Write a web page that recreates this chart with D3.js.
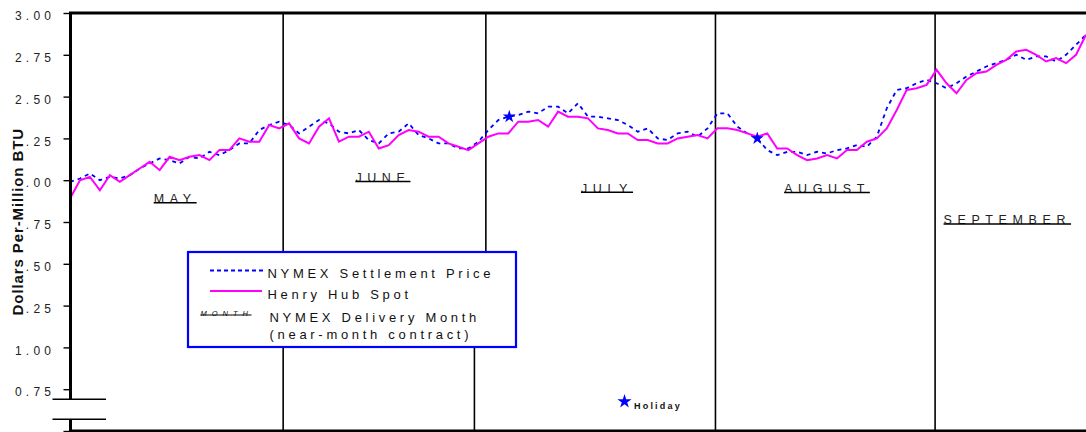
<!DOCTYPE html>
<html>
<head>
<meta charset="utf-8">
<script src="https://cdn.jsdelivr.net/npm/d3@7"></script>
<style>
  html, body { margin: 0; padding: 0; background: #fff; }
  svg { display: block; font-family: "Liberation Sans", Arial, Helvetica, sans-serif; }
</style>
</head>
<body>
<svg id="chart" width="1086" height="432"></svg>
<script>
// Daily prices, May through September (trading days), $ per million BTU
const henryHub = [
  1.89, 2.00, 2.02, 1.94, 2.03, 1.99, 2.03, 2.07, 2.11, 2.06,
  2.14, 2.12, 2.14, 2.15, 2.12, 2.18, 2.18, 2.25, 2.23, 2.23,
  2.33, 2.31, 2.34, 2.25, 2.22, 2.32, 2.37, 2.23, 2.26, 2.26,
  2.29, 2.19, 2.21, 2.27, 2.30, 2.29, 2.26, 2.26, 2.22, 2.20,
  2.18, 2.22, 2.26, 2.28, 2.28, 2.35, 2.35, 2.36, 2.32, 2.41,
  2.38, 2.38, 2.37, 2.31, 2.30, 2.28, 2.28, 2.24, 2.24, 2.22,
  2.22, 2.25, 2.26, 2.27, 2.25, 2.31, 2.31, 2.30, 2.28, 2.26,
  2.28, 2.19, 2.19, 2.15, 2.12, 2.13, 2.15, 2.13, 2.18, 2.18,
  2.23, 2.25, 2.31, 2.42, 2.54, 2.55, 2.57, 2.66, 2.58, 2.52,
  2.60, 2.64, 2.65, 2.69, 2.72, 2.77, 2.78, 2.75, 2.71, 2.73,
  2.70, 2.75, 2.87
];

const nymexSettle = [
  1.99, 2.01, 2.04, 2.00, 2.02, 2.01, 2.03, 2.07, 2.10, 2.13,
  2.12, 2.10, 2.14, 2.13, 2.17, 2.15, 2.18, 2.22, 2.22, 2.30,
  2.33, 2.35, 2.33, 2.28, 2.32, 2.36, 2.34, 2.29, 2.28, 2.30,
  2.24, 2.22, 2.28, 2.29, 2.34, 2.27, 2.25, 2.22, 2.22, 2.19,
  2.19, 2.23, 2.30, 2.36, 2.38, 2.39, 2.41, 2.40, 2.44, 2.44,
  2.40, 2.46, 2.38, 2.38, 2.37, 2.36, 2.33, 2.29, 2.31, 2.25,
  2.24, 2.28, 2.29, 2.26, 2.31, 2.40, 2.40, 2.32, 2.28, 2.25,
  2.18, 2.15, 2.17, 2.17, 2.15, 2.17, 2.16, 2.18, 2.19, 2.21,
  2.20, 2.26, 2.43, 2.54, 2.55, 2.58, 2.60, 2.58, 2.55, 2.58,
  2.62, 2.65, 2.68, 2.70, 2.72, 2.75, 2.72, 2.74, 2.74, 2.71,
  2.75, 2.81, 2.87
];

const yTickValues = [0.75, 1.00, 1.25, 1.50, 1.75, 2.00, 2.25, 2.50, 2.75, 3.00];

// Near-month contract labels and where each sits (trading day, price)
const deliveryMonths = ["MAY", "JUNE", "JULY", "AUGUST", "SEPTEMBER"];
const deliveryLabelDay = [8.4, 28.65, 51.3, 71.7, 87.7];
const deliveryLabelPrice = [1.864, 1.991, 1.926, 1.925, 1.736];

// Contract rollover dividers (trading day, price span)
const rolloverDay = [21.4, 41.75, 40.6, 64.8, 86.85];
const rolloverTop = [3.0, 3.0, 1.25, 3.0, 3.0];
const rolloverBottom = [0.5, 1.5, 0.5, 0.5, 0.5];

// Exchange holidays
const holidayDay = [44.1, 69.0];
const holidayPrice = [2.38, 2.25];

// Axis break on the price scale
const breakHigh = 0.69, breakLow = 0.57;

const svg = d3.select("#chart");
const W = 1086, H = 432;
const axisX = 70.5, plotRight = 1086, plotTop = 13, plotBottom = 431;

const x = d3.scaleLinear().domain([0, henryHub.length - 1]).range([70, plotRight]);
const y = d3.scaleLinear().domain([0.5, 3.0]).range([plotBottom, plotTop]);

svg.append("rect").attr("width", W).attr("height", H).attr("fill", "#fff");

// Rollover dividers
svg.append("g").selectAll("line")
  .data(rolloverDay.map((d, i) => ({ d, t: rolloverTop[i], b: rolloverBottom[i] })))
  .join("line")
  .attr("x1", r => x(r.d)).attr("x2", r => x(r.d))
  .attr("y1", r => y(r.t)).attr("y2", r => y(r.b))
  .attr("stroke", "#000").attr("stroke-width", 1.6);

// Price series
const line = d3.line().x((d, i) => x(i)).y(d => y(d));

svg.append("path").datum(nymexSettle)
  .attr("d", line)
  .attr("fill", "none")
  .attr("stroke", "#0000ff")
  .attr("stroke-width", 1.8)
  .attr("stroke-dasharray", "4,4");

svg.append("path").datum(henryHub)
  .attr("d", line)
  .attr("fill", "none")
  .attr("stroke", "#ff00ff")
  .attr("stroke-width", 2)
  .attr("stroke-linejoin", "miter");

// Holiday markers
const star = d3.symbol(d3.symbolStar, 52);
svg.append("g").selectAll("path")
  .data(holidayDay.map((d, i) => ({ d, p: holidayPrice[i] })))
  .join("path")
  .attr("d", star)
  .attr("transform", h => `translate(${x(h.d)},${y(h.p)})`)
  .attr("fill", "#0000ff");

// Delivery month labels with underline rule
const mg = svg.append("g");
deliveryMonths.forEach((m, i) => {
  const tx = x(deliveryLabelDay[i]);
  const ty = y(deliveryLabelPrice[i]);
  const t = mg.append("text")
    .attr("x", tx).attr("y", ty)
    .attr("font-size", 12.5)
    .attr("letter-spacing", "5.6px")
    .attr("fill", "#222")
    .text(m);
  const w = t.node().getComputedTextLength();
  mg.append("line")
    .attr("x1", tx).attr("x2", tx + w)
    .attr("y1", ty - 0.3).attr("y2", ty - 0.3)
    .attr("stroke", "#000").attr("stroke-width", 1.5);
});

// Frame: top and bottom rules, left axis with break
const frame = svg.append("g").attr("stroke", "#000");
frame.append("line").attr("x1", axisX - 1.5).attr("x2", plotRight).attr("y1", y(3)).attr("y2", y(3)).attr("stroke-width", 3);
frame.append("line").attr("x1", axisX - 1.5).attr("x2", plotRight).attr("y1", y(0.5)).attr("y2", y(0.5)).attr("stroke-width", 3);
frame.append("line").attr("x1", axisX).attr("x2", axisX).attr("y1", y(3)).attr("y2", y(breakHigh)).attr("stroke-width", 3);
frame.append("line").attr("x1", axisX).attr("x2", axisX).attr("y1", y(breakLow)).attr("y2", y(0.5)).attr("stroke-width", 3);
[breakHigh, breakLow].forEach(v => {
  frame.append("line").attr("x1", 52.5).attr("x2", 106).attr("y1", y(v)).attr("y2", y(v)).attr("stroke-width", 1.6);
});

// Y axis ticks and labels
const yAxis = d3.axisLeft(y)
  .tickValues([0.5].concat(yTickValues))
  .tickSize(7)
  .tickFormat(d => d === 0.5 ? "" : d3.format(".2f")(d));
const ag = svg.append("g").attr("transform", `translate(${axisX},0)`).call(yAxis);
ag.select(".domain").remove();
ag.selectAll(".tick line").attr("stroke", "#000").attr("stroke-width", 1.4);
ag.selectAll(".tick text")
  .attr("text-anchor", "start")
  .attr("x", 15 - axisX)
  .attr("dy", null)
  .attr("y", 6.6)
  .attr("font-size", 12)
  .attr("letter-spacing", "4.2px")
  .attr("fill", "#222")
  .attr("font-family", "Liberation Sans, Arial, sans-serif");

// Y axis title on a white band
svg.append("rect").attr("x", 11).attr("y", 126).attr("width", 13.5).attr("height", 193).attr("fill", "#fff");
svg.append("text")
  .attr("transform", "translate(22.7,221.7) rotate(-90)")
  .attr("text-anchor", "middle")
  .attr("font-size", 15)
  .attr("font-weight", "bold")
  .attr("letter-spacing", "0.9px")
  .attr("fill", "#111")
  .text("Dollars Per-Million BTU");

// Legend
const lg = svg.append("g");
lg.append("rect")
  .attr("x", 188).attr("y", 252).attr("width", 328).attr("height", 95)
  .attr("fill", "#fff").attr("stroke", "#0000ff").attr("stroke-width", 2.2);
lg.append("line").attr("x1", 210).attr("x2", 263).attr("y1", 270.5).attr("y2", 270.5)
  .attr("stroke", "#0000ff").attr("stroke-width", 1.8).attr("stroke-dasharray", "4,3");
lg.append("line").attr("x1", 210).attr("x2", 262).attr("y1", 291).attr("y2", 291)
  .attr("stroke", "#ff00ff").attr("stroke-width", 2);
const legText = (tx, ty, s) => lg.append("text")
  .attr("x", tx).attr("y", ty)
  .attr("font-size", 13).attr("letter-spacing", "3.7px").attr("fill", "#111").text(s);
legText(267.5, 277.5, "NYMEX Settlement Price");
legText(267.5, 298.5, "Henry Hub Spot");
legText(269.5, 321.8, "NYMEX Delivery Month");
legText(269.5, 338.5, "(near-month contract)");
lg.append("text")
  .attr("x", 200.5).attr("y", 316)
  .attr("font-size", 7.5).attr("font-style", "italic").attr("letter-spacing", "5px")
  .attr("fill", "#111").text("MONTH");
lg.append("line").attr("x1", 200.5).attr("x2", 251.5).attr("y1", 315).attr("y2", 315)
  .attr("stroke", "#000").attr("stroke-width", 1.1);

// Holiday key
svg.append("path")
  .attr("d", d3.symbol(d3.symbolStar, 62)())
  .attr("transform", "translate(624.5,401.5)")
  .attr("fill", "#0000ff");
svg.append("text")
  .attr("x", 634).attr("y", 409.3)
  .attr("font-size", 9).attr("font-weight", "bold").attr("letter-spacing", "2.2px")
  .attr("fill", "#111").text("Holiday");
</script>
</body>
</html>
